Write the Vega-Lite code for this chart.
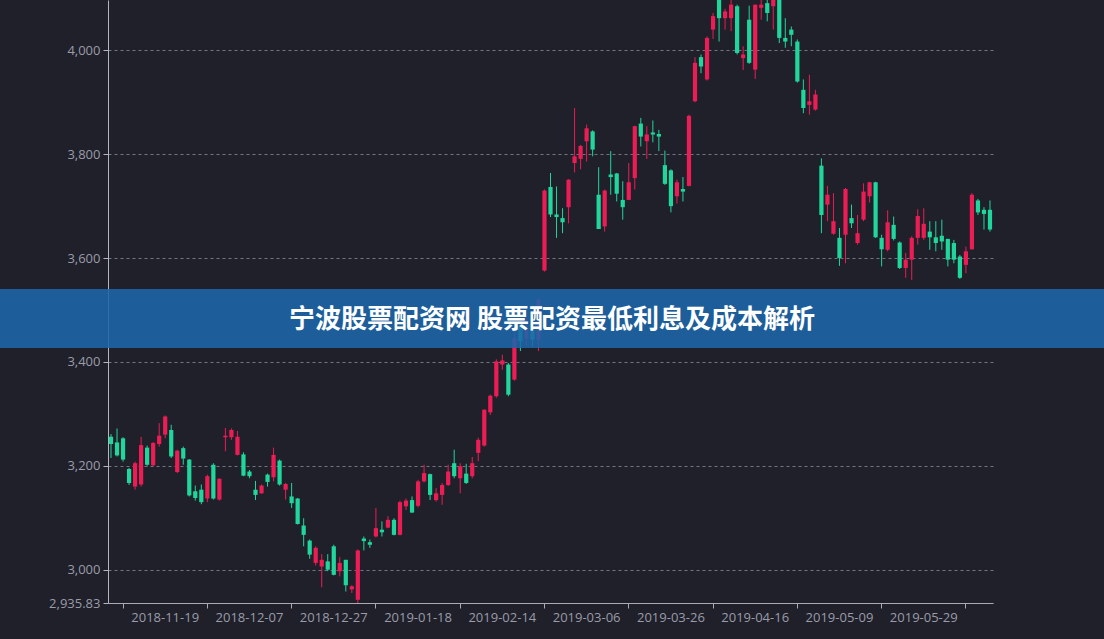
{
  "$schema": "https://vega.github.io/schema/vega-lite/v6.json",
  "width": 885,
  "height": 603,
  "autosize": {"type": "none"},
  "padding": {"left": 108, "top": 0, "right": 111, "bottom": 36},
  "background": "#1f202a",
  "config": {"view": {"stroke": null}, "font": "Open Sans"},
  "data": {"values": [
    {"date":"2018-11-06","open":3256,"high":3261,"low":3215,"close":3242},
    {"date":"2018-11-07","open":3245,"high":3272,"low":3218,"close":3220},
    {"date":"2018-11-08","open":3253,"high":3255,"low":3208,"close":3212},
    {"date":"2018-11-09","open":3194,"high":3196,"low":3163,"close":3167},
    {"date":"2018-11-12","open":3160,"high":3208,"low":3154,"close":3205},
    {"date":"2018-11-13","open":3164,"high":3256,"low":3160,"close":3240},
    {"date":"2018-11-14","open":3235,"high":3239,"low":3200,"close":3202},
    {"date":"2018-11-15","open":3201,"high":3246,"low":3199,"close":3244},
    {"date":"2018-11-16","open":3242,"high":3282,"low":3237,"close":3258},
    {"date":"2018-11-19","open":3260,"high":3297,"low":3253,"close":3295},
    {"date":"2018-11-20","open":3269,"high":3279,"low":3215,"close":3218},
    {"date":"2018-11-21","open":3188,"high":3231,"low":3186,"close":3229},
    {"date":"2018-11-22","open":3234,"high":3237,"low":3202,"close":3214},
    {"date":"2018-11-23","open":3212,"high":3213,"low":3141,"close":3143},
    {"date":"2018-11-26","open":3151,"high":3162,"low":3133,"close":3138},
    {"date":"2018-11-27","open":3154,"high":3164,"low":3126,"close":3130},
    {"date":"2018-11-28","open":3137,"high":3183,"low":3130,"close":3180},
    {"date":"2018-11-29","open":3202,"high":3205,"low":3135,"close":3137},
    {"date":"2018-11-30","open":3135,"high":3176,"low":3133,"close":3175},
    {"date":"2018-12-03","open":3255,"high":3273,"low":3228,"close":3258},
    {"date":"2018-12-04","open":3255,"high":3272,"low":3250,"close":3269},
    {"date":"2018-12-05","open":3221,"high":3267,"low":3220,"close":3256},
    {"date":"2018-12-06","open":3222,"high":3226,"low":3180,"close":3181},
    {"date":"2018-12-07","open":3189,"high":3192,"low":3176,"close":3180},
    {"date":"2018-12-10","open":3154,"high":3171,"low":3134,"close":3144},
    {"date":"2018-12-11","open":3147,"high":3164,"low":3146,"close":3162},
    {"date":"2018-12-12","open":3183,"high":3185,"low":3160,"close":3169},
    {"date":"2018-12-13","open":3178,"high":3235,"low":3170,"close":3221},
    {"date":"2018-12-14","open":3210,"high":3212,"low":3162,"close":3164},
    {"date":"2018-12-17","open":3154,"high":3167,"low":3135,"close":3165},
    {"date":"2018-12-18","open":3141,"high":3167,"low":3119,"close":3128},
    {"date":"2018-12-19","open":3137,"high":3138,"low":3087,"close":3088},
    {"date":"2018-12-20","open":3085,"high":3099,"low":3045,"close":3067},
    {"date":"2018-12-21","open":3056,"high":3058,"low":3021,"close":3029},
    {"date":"2018-12-24","open":3013,"high":3045,"low":3008,"close":3042},
    {"date":"2018-12-25","open":3006,"high":3030,"low":2966,"close":3019},
    {"date":"2018-12-26","open":3016,"high":3030,"low":2997,"close":3000},
    {"date":"2018-12-27","open":3045,"high":3048,"low":2989,"close":2990},
    {"date":"2018-12-28","open":2997,"high":3024,"low":2987,"close":3013},
    {"date":"2019-01-02","open":3019,"high":3019,"low":2958,"close":2970},
    {"date":"2019-01-03","open":2962,"high":2970,"low":2955,"close":2968},
    {"date":"2019-01-04","open":2942,"high":3039,"low":2935.83,"close":3037},
    {"date":"2019-01-07","open":3060,"high":3064,"low":3037,"close":3055},
    {"date":"2019-01-08","open":3053,"high":3058,"low":3042,"close":3048},
    {"date":"2019-01-09","open":3064,"high":3119,"low":3062,"close":3080},
    {"date":"2019-01-10","open":3077,"high":3093,"low":3064,"close":3072},
    {"date":"2019-01-11","open":3081,"high":3103,"low":3080,"close":3096},
    {"date":"2019-01-14","open":3096,"high":3099,"low":3066,"close":3067},
    {"date":"2019-01-15","open":3067,"high":3133,"low":3066,"close":3130},
    {"date":"2019-01-16","open":3122,"high":3137,"low":3115,"close":3133},
    {"date":"2019-01-17","open":3134,"high":3141,"low":3109,"close":3110},
    {"date":"2019-01-18","open":3123,"high":3173,"low":3120,"close":3170},
    {"date":"2019-01-21","open":3170,"high":3202,"low":3168,"close":3186},
    {"date":"2019-01-22","open":3184,"high":3185,"low":3134,"close":3144},
    {"date":"2019-01-23","open":3134,"high":3157,"low":3131,"close":3147},
    {"date":"2019-01-24","open":3144,"high":3167,"low":3125,"close":3163},
    {"date":"2019-01-25","open":3163,"high":3202,"low":3161,"close":3189},
    {"date":"2019-01-28","open":3205,"high":3231,"low":3176,"close":3180},
    {"date":"2019-01-29","open":3176,"high":3205,"low":3147,"close":3199},
    {"date":"2019-01-30","open":3185,"high":3204,"low":3165,"close":3167},
    {"date":"2019-01-31","open":3180,"high":3217,"low":3176,"close":3205},
    {"date":"2019-02-01","open":3225,"high":3254,"low":3209,"close":3250},
    {"date":"2019-02-11","open":3239,"high":3309,"low":3237,"close":3308},
    {"date":"2019-02-12","open":3303,"high":3337,"low":3298,"close":3335},
    {"date":"2019-02-13","open":3334,"high":3405,"low":3331,"close":3401},
    {"date":"2019-02-14","open":3395,"high":3414,"low":3385,"close":3403},
    {"date":"2019-02-15","open":3395,"high":3398,"low":3334,"close":3337},
    {"date":"2019-02-18","open":3366,"high":3462,"low":3364,"close":3446},
    {"date":"2019-02-19","open":3468,"high":3480,"low":3421,"close":3440},
    {"date":"2019-02-20","open":3445,"high":3484,"low":3430,"close":3465},
    {"date":"2019-02-21","open":3462,"high":3490,"low":3430,"close":3443},
    {"date":"2019-02-22","open":3442,"high":3524,"low":3421,"close":3520},
    {"date":"2019-02-25","open":3576,"high":3732,"low":3574,"close":3730},
    {"date":"2019-02-26","open":3737,"high":3764,"low":3679,"close":3684},
    {"date":"2019-02-27","open":3684,"high":3738,"low":3639,"close":3679},
    {"date":"2019-02-28","open":3677,"high":3696,"low":3648,"close":3669},
    {"date":"2019-03-01","open":3698,"high":3752,"low":3667,"close":3751},
    {"date":"2019-03-04","open":3783,"high":3889,"low":3765,"close":3796},
    {"date":"2019-03-05","open":3791,"high":3818,"low":3771,"close":3816},
    {"date":"2019-03-06","open":3825,"high":3857,"low":3786,"close":3850},
    {"date":"2019-03-07","open":3844,"high":3846,"low":3796,"close":3809},
    {"date":"2019-03-08","open":3722,"high":3775,"low":3656,"close":3656},
    {"date":"2019-03-11","open":3661,"high":3732,"low":3651,"close":3730},
    {"date":"2019-03-12","open":3761,"high":3806,"low":3722,"close":3756},
    {"date":"2019-03-13","open":3763,"high":3764,"low":3709,"close":3724},
    {"date":"2019-03-14","open":3712,"high":3748,"low":3674,"close":3698},
    {"date":"2019-03-15","open":3712,"high":3783,"low":3712,"close":3746},
    {"date":"2019-03-18","open":3754,"high":3855,"low":3732,"close":3854},
    {"date":"2019-03-19","open":3859,"high":3870,"low":3815,"close":3834},
    {"date":"2019-03-20","open":3825,"high":3854,"low":3791,"close":3838},
    {"date":"2019-03-21","open":3842,"high":3865,"low":3823,"close":3838},
    {"date":"2019-03-22","open":3839,"high":3847,"low":3806,"close":3834},
    {"date":"2019-03-25","open":3779,"high":3807,"low":3741,"close":3743},
    {"date":"2019-03-26","open":3769,"high":3771,"low":3688,"close":3700},
    {"date":"2019-03-27","open":3719,"high":3751,"low":3705,"close":3746},
    {"date":"2019-03-28","open":3733,"high":3756,"low":3709,"close":3728},
    {"date":"2019-03-29","open":3739,"high":3876,"low":3738,"close":3874},
    {"date":"2019-04-01","open":3902,"high":3987,"low":3900,"close":3976},
    {"date":"2019-04-02","open":3987,"high":3992,"low":3956,"close":3969},
    {"date":"2019-04-03","open":3944,"high":4027,"low":3942,"close":4024},
    {"date":"2019-04-04","open":4040,"high":4072,"low":4022,"close":4066},
    {"date":"2019-04-08","open":4110,"high":4126,"low":4017,"close":4062},
    {"date":"2019-04-09","open":4062,"high":4080,"low":4040,"close":4075},
    {"date":"2019-04-10","open":4062,"high":4105,"low":4037,"close":4088},
    {"date":"2019-04-11","open":4085,"high":4088,"low":3992,"close":3995},
    {"date":"2019-04-12","open":3985,"high":4008,"low":3962,"close":3992},
    {"date":"2019-04-15","open":4059,"high":4086,"low":3974,"close":3976},
    {"date":"2019-04-16","open":3963,"high":4088,"low":3945,"close":4088},
    {"date":"2019-04-17","open":4082,"high":4105,"low":4059,"close":4088},
    {"date":"2019-04-18","open":4091,"high":4102,"low":4056,"close":4072},
    {"date":"2019-04-19","open":4085,"high":4125,"low":4040,"close":4120},
    {"date":"2019-04-22","open":4118,"high":4122,"low":4014,"close":4024},
    {"date":"2019-04-23","open":4024,"high":4062,"low":4005,"close":4017},
    {"date":"2019-04-24","open":4040,"high":4046,"low":4008,"close":4030},
    {"date":"2019-04-25","open":4017,"high":4021,"low":3938,"close":3940},
    {"date":"2019-04-26","open":3924,"high":3944,"low":3879,"close":3889},
    {"date":"2019-04-29","open":3895,"high":3953,"low":3876,"close":3902},
    {"date":"2019-04-30","open":3886,"high":3924,"low":3884,"close":3915},
    {"date":"2019-05-06","open":3778,"high":3792,"low":3648,"close":3683},
    {"date":"2019-05-07","open":3703,"high":3739,"low":3671,"close":3722},
    {"date":"2019-05-08","open":3647,"high":3725,"low":3645,"close":3671},
    {"date":"2019-05-09","open":3639,"high":3658,"low":3585,"close":3600},
    {"date":"2019-05-10","open":3645,"high":3735,"low":3590,"close":3733},
    {"date":"2019-05-13","open":3677,"high":3703,"low":3658,"close":3667},
    {"date":"2019-05-14","open":3629,"high":3683,"low":3626,"close":3648},
    {"date":"2019-05-15","open":3674,"high":3744,"low":3671,"close":3728},
    {"date":"2019-05-16","open":3719,"high":3747,"low":3707,"close":3746},
    {"date":"2019-05-17","open":3746,"high":3747,"low":3639,"close":3640},
    {"date":"2019-05-20","open":3639,"high":3645,"low":3584,"close":3617},
    {"date":"2019-05-21","open":3616,"high":3692,"low":3613,"close":3669},
    {"date":"2019-05-22","open":3664,"high":3680,"low":3634,"close":3637},
    {"date":"2019-05-23","open":3630,"high":3632,"low":3579,"close":3581},
    {"date":"2019-05-24","open":3581,"high":3610,"low":3562,"close":3597},
    {"date":"2019-05-27","open":3597,"high":3642,"low":3558,"close":3639},
    {"date":"2019-05-28","open":3639,"high":3694,"low":3626,"close":3681},
    {"date":"2019-05-29","open":3639,"high":3696,"low":3635,"close":3666},
    {"date":"2019-05-30","open":3651,"high":3671,"low":3616,"close":3640},
    {"date":"2019-05-31","open":3640,"high":3671,"low":3613,"close":3629},
    {"date":"2019-06-03","open":3643,"high":3674,"low":3616,"close":3632},
    {"date":"2019-06-04","open":3637,"high":3637,"low":3584,"close":3597},
    {"date":"2019-06-05","open":3629,"high":3635,"low":3590,"close":3597},
    {"date":"2019-06-06","open":3603,"high":3606,"low":3560,"close":3562},
    {"date":"2019-06-10","open":3587,"high":3622,"low":3571,"close":3613},
    {"date":"2019-06-11","open":3617,"high":3725,"low":3616,"close":3722},
    {"date":"2019-06-12","open":3711,"high":3714,"low":3683,"close":3688},
    {"date":"2019-06-13","open":3693,"high":3698,"low":3655,"close":3685},
    {"date":"2019-06-14","open":3693,"high":3711,"low":3651,"close":3655}
  ]},
  "layer": [
    {
      "mark": {"type": "rule", "clip": true, "strokeWidth": 1},
      "encoding": {
        "x": {
          "field": "date", "type": "ordinal", "sort": null,
          "scale": {"type": "band", "paddingInner": 0, "paddingOuter": 0},
          "axis": {
            "title": null,
            "values": ["2018-11-08","2018-11-28","2018-12-18","2019-01-09","2019-01-29","2019-02-25","2019-03-15","2019-04-04","2019-04-25","2019-05-20","2019-06-10"],
            "labelExpr": "({'2018-11-08':'2018-11-19','2018-11-28':'2018-12-07','2018-12-18':'2018-12-27','2019-01-09':'2019-01-18','2019-01-29':'2019-02-14','2019-02-25':'2019-03-06','2019-03-15':'2019-03-26','2019-04-04':'2019-04-16','2019-04-25':'2019-05-09','2019-05-20':'2019-05-29'})[datum.value] || ''",
            "labelOffset": 42.14,
            "bandPosition": 0.5,
            "labelAngle": 0,
            "labelOverlap": false,
            "labelBound": false,
            "labelFlush": false,
            "grid": false,
            "domainColor": "#a9aab4",
            "tickColor": "#a9aab4",
            "tickSize": 5,
            "labelColor": "#9a9ca8",
            "labelFontSize": 13,
            "labelPadding": 3
          }
        },
        "y": {
          "field": "low", "type": "quantitative",
          "scale": {"domain": [2935.83, 4097], "nice": false, "zero": false},
          "axis": {
            "title": null,
            "values": [2935.83, 3000, 3200, 3400, 3600, 3800, 4000],
            "format": ",.2~f",
            "grid": true,
            "gridColor": "#72747f",
            "gridDash": [3, 3],
            "gridWidth": 1,
            "domainColor": "#b4b5bf",
            "tickColor": "#b4b5bf",
            "tickSize": 5,
            "labelColor": "#9a9ca8",
            "labelFontSize": 13,
            "labelPadding": 3
          }
        },
        "y2": {"field": "high"},
        "color": {"condition": {"test": "datum.close >= datum.open", "value": "#ec1c54"}, "value": "#20d69c"}
      }
    },
    {
      "mark": {"type": "bar", "clip": true, "width": {"band": 0.7}},
      "encoding": {
        "x": {"field": "date", "type": "ordinal", "sort": null},
        "y": {"field": "open", "type": "quantitative"},
        "y2": {"field": "close"},
        "color": {"condition": {"test": "datum.close >= datum.open", "value": "#ec1c54"}, "value": "#20d69c"}
      }
    },
    {
      "data": {"values": [{"t": "宁波股票配资网 股票配资最低利息及成本解析"}]},
      "mark": {"type": "rect", "clip": false, "color": "#1d65aa", "opacity": 0.88, "x": -108, "x2": {"expr": "width + 111"}},
      "encoding": {
        "y": {"datum": 3540.5},
        "y2": {"datum": 3426.9}
      }
    },
    {
      "data": {"values": [{"t": "宁波股票配资网 股票配资最低利息及成本解析"}]},
      "mark": {"type": "text", "font": "Noto Sans CJK SC", "fontWeight": "bold", "fontSize": 26, "color": "#ffffff", "baseline": "middle", "align": "center", "dx": 1.5},
      "encoding": {
        "y": {"datum": 3481},
        "text": {"field": "t"}
      }
    }
  ]
}
